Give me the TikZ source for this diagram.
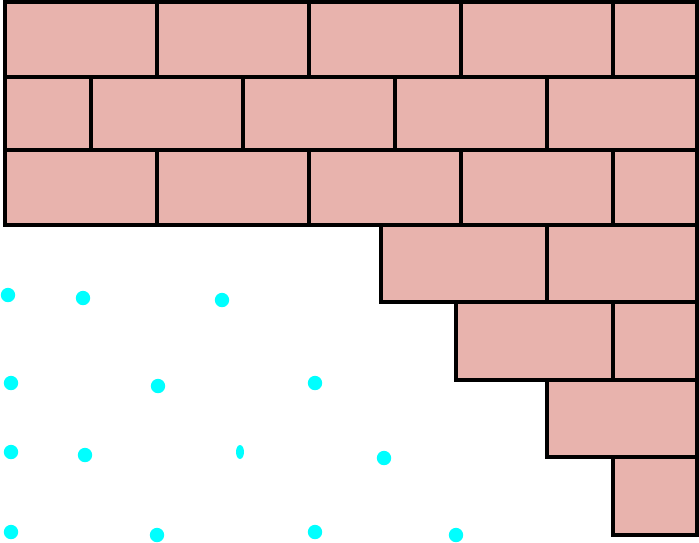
\documentclass[tikz,border=0pt]{standalone}
\usepackage{tikz}
\definecolor{brickfill}{HTML}{E8B3AD}
\definecolor{dotcyan}{HTML}{00FFFF}

\begin{document}
\begin{tikzpicture}[x=1pt, y=-1pt,
    brick/.style={fill=brickfill, draw=black, line width=3.2pt},
    gridpt/.style={fill=dotcyan}]
    \useasboundingbox (0,0) rectangle (699,542);

    % Bricks (rows of wall, then the stair down the right side)
    \foreach \xa/\xb in {5/157, 157/309, 309/461, 461/613, 613/697}
        \draw[brick] (\xa,2) rectangle (\xb,77);
    \foreach \xa/\xb in {5/91, 91/243, 243/395, 395/547, 547/697}
        \draw[brick] (\xa,77) rectangle (\xb,150);
    \foreach \xa/\xb in {5/157, 157/309, 309/461, 461/613, 613/697}
        \draw[brick] (\xa,150) rectangle (\xb,225);
    \foreach \xa/\xb in {381/547, 547/697}
        \draw[brick] (\xa,225) rectangle (\xb,302);
    \foreach \xa/\xb in {456/613, 613/697}
        \draw[brick] (\xa,302) rectangle (\xb,380);
    \draw[brick] (547,380) rectangle (697,457);
    \draw[brick] (613,457) rectangle (697,535);

    % Dots
    \foreach \px/\py in {8/295, 83/298, 222/300,
                         11/383, 158/386, 315/383,
                         11/452, 85/455, 384/458,
                         11/532, 157/535, 315/532, 456/535}
        \fill[gridpt] (\px,\py) circle[radius=7.2pt];
    \fill[gridpt] (240,452) ellipse[x radius=4pt, y radius=7pt];
\end{tikzpicture}
\end{document}
